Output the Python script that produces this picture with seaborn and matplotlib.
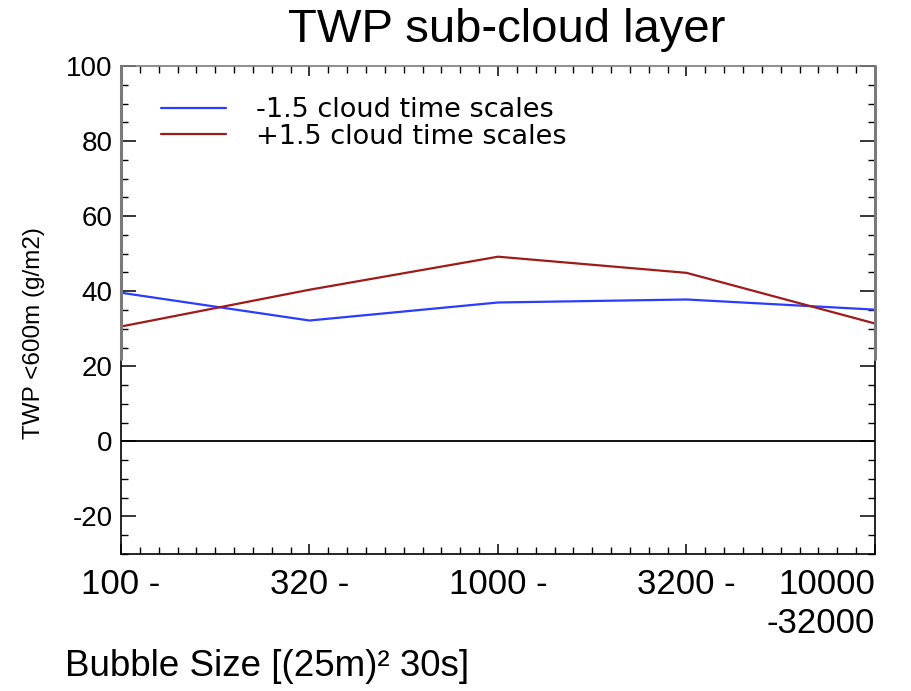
import numpy as np
import pandas as pd
import matplotlib
matplotlib.use("Agg")
import matplotlib.pyplot as plt
import seaborn as sns
from matplotlib.ticker import MultipleLocator, AutoMinorLocator

bins = ["100 -", "320 -", "1000 -", "3200 -", "10000\n-32000"]
minus_vals = [39.6, 32.2, 37.0, 37.8, 35.1]
plus_vals = [30.6, 40.4, 49.2, 44.9, 31.4]
series_names = ["-1.5 cloud time scales", "+1.5 cloud time scales"]
colors = ["#2a3cff", "#a01a1a"]

df = pd.DataFrame({
    "x": list(range(len(bins))) * 2,
    "TWP": minus_vals + plus_vals,
    "series": [series_names[0]] * len(bins) + [series_names[1]] * len(bins),
})

sns.set_theme(style="ticks")
plt.rcParams['font.family'] = ['Liberation Sans', 'DejaVu Sans']
plt.rcParams['axes.unicode_minus'] = False
plt.rcParams['text.color'] = 'black'
plt.rcParams['axes.labelcolor'] = 'black'
plt.rcParams['xtick.labelcolor'] = 'black'
plt.rcParams['ytick.labelcolor'] = 'black'

fig = plt.figure(figsize=(9.12, 6.91), dpi=100)
L, R, T, B = 121, 875, 66, 554
ax = fig.add_axes([L / 912, 1 - B / 691, (R - L) / 912, (B - T) / 691])

sns.lineplot(data=df, x="x", y="TWP", hue="series", palette=colors,
             linewidth=1.6, ax=ax, legend=True)

ax.axhline(0, color="black", lw=1.3, zorder=1)
ax.set_xlim(0, 4)
ax.set_ylim(-30, 100)
ax.set_xticks(range(len(bins)))
ax.set_xticklabels(bins, fontsize=25, ha="center", va="top", linespacing=1.25)
lbls = ax.get_xticklabels()
lbls[-1].set_ha("right")
lbls[-1].set_multialignment("right")
ax.xaxis.set_minor_locator(AutoMinorLocator(10))
ax.yaxis.set_major_locator(MultipleLocator(20))
ax.yaxis.set_minor_locator(MultipleLocator(5))
ax.tick_params(axis="y", labelsize=20, pad=6)
ax.tick_params(axis="x", pad=10)
ax.tick_params(which="both", direction="in", top=True, right=True, color="black")
ax.tick_params(which="major", length=11, width=1.1)
ax.tick_params(which="minor", length=5, width=1.0)
ax.tick_params(axis="x", which="major", length=7)
ax.set_xlabel("")
ax.set_ylabel("TWP <600m (g/m2)", fontsize=17.5)
ax.yaxis.set_label_coords(-0.101, 0.453)
for s in ax.spines.values():
    s.set_color("black")
    s.set_linewidth(1.2)

# grey upper part of the frame (as in the reference)
gray = "#7a7a7a"
ax.spines["top"].set_color(gray)
frac = (22 + 30) / 130
ax.axvline(0, ymin=frac, ymax=1, color=gray, lw=2.2, zorder=5, clip_on=False)
ax.axvline(4, ymin=frac, ymax=1, color=gray, lw=2.2, zorder=5, clip_on=False)
for t in ax.yaxis.get_major_ticks():
    if t.get_loc() > 22:
        t.tick1line.set_color(gray)
        t.tick2line.set_color(gray)
for t in ax.yaxis.get_minor_ticks():
    if t.get_loc() > 22:
        t.tick1line.set_color(gray)
        t.tick2line.set_color(gray)
for t in ax.xaxis.get_major_ticks() + ax.xaxis.get_minor_ticks():
    t.tick2line.set_color(gray)

leg = ax.legend(loc="upper left", bbox_to_anchor=(0.053, 0.936), frameon=False,
                prop={"family": ["DejaVu Sans"], "size": 19.5},
                handlelength=2.4, handletextpad=1.1,
                labelspacing=0.02, borderaxespad=0, borderpad=0)

fig.text(507 / 912, 1 - 30 / 691, "TWP sub-cloud layer",
         ha="center", va="center", fontsize=34)
fig.text(65 / 912, 1 - 666 / 691, "Bubble Size [(25m)² 30s]",
         ha="left", va="center", fontsize=26.5)

fig.savefig("out.png", dpi=100, facecolor="white")
